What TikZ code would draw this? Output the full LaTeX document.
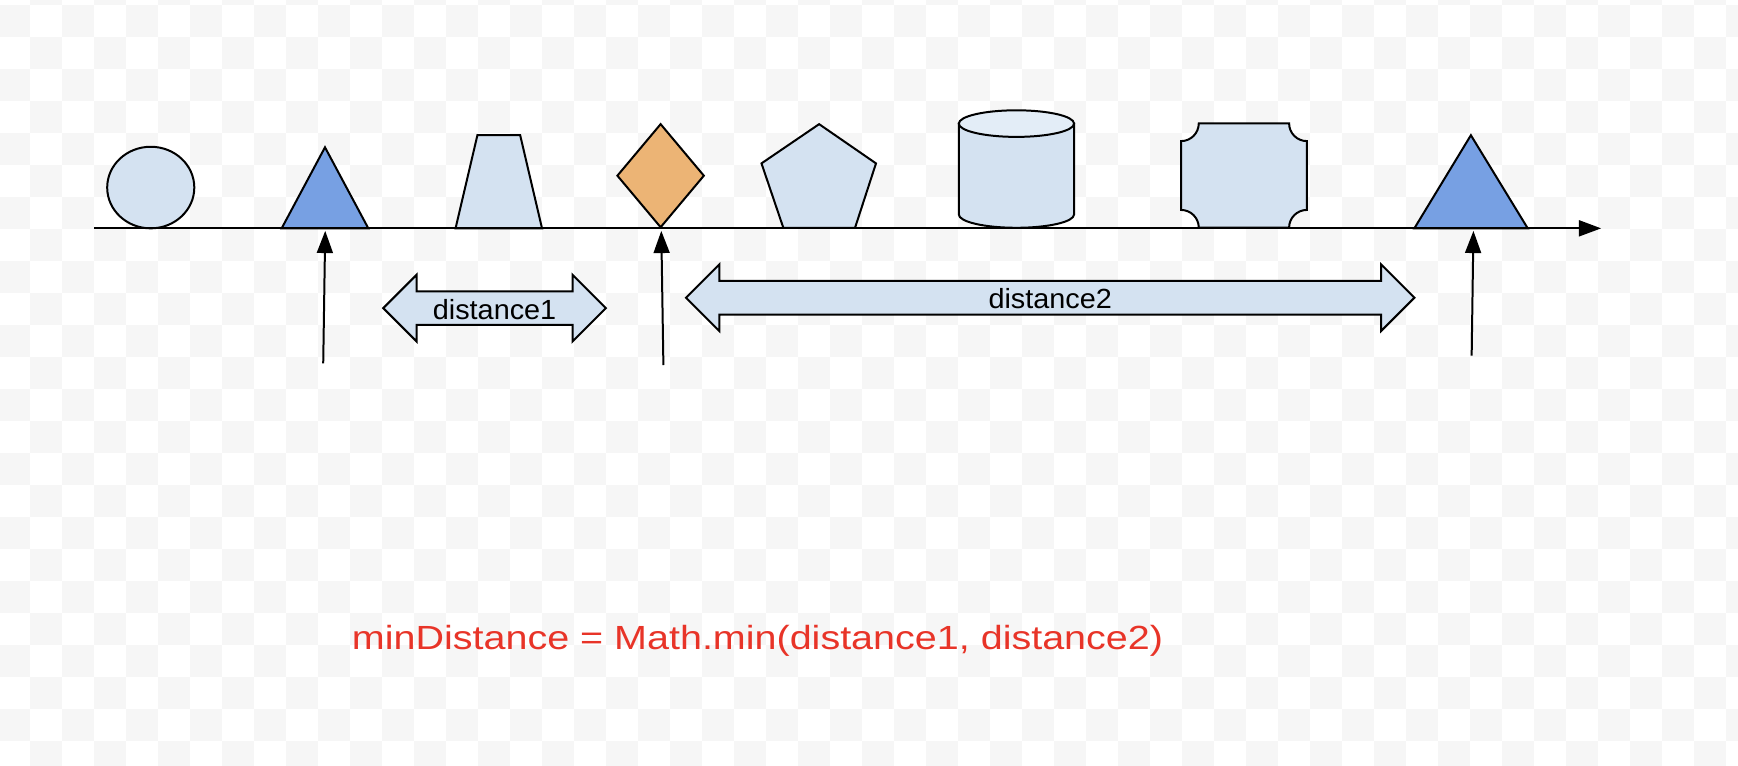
\documentclass[tikz,border=0pt]{standalone}
\usepackage{fontspec}
\setmainfont{Liberation Sans}
\newfontfamily\wideface[FakeStretch=1.18]{Liberation Sans}
\newfontfamily\labelface[FakeStretch=1.04]{Liberation Sans}
\usetikzlibrary{arrows.meta,shapes.arrows}
\definecolor{paleblue}{RGB}{212,226,241}
\definecolor{paletop}{RGB}{227,237,247}
\definecolor{triblue}{RGB}{119,160,227}
\definecolor{diamorange}{RGB}{236,180,117}
\definecolor{formred}{RGB}{232,52,40}
\definecolor{checkgrey}{RGB}{246,246,246}

\begin{document}
\begin{tikzpicture}[x=1pt,y=-1pt,
  outline/.style={draw=black,line width=1.8pt,line join=miter},
  pointer/.style={line width=1.8pt,-{Triangle[length=20pt,width=14.4pt]}},
  dblarrow/.style={double arrow,draw=black,line width=1.8pt,fill=paleblue,
    double arrow head extend=14.9pt,inner xsep=0pt,inner ysep=4.5pt,
    text height=19.6pt,text depth=0pt,font=\labelface\fontsize{25}{28}\selectfont}]
  % background
  \useasboundingbox (0,0) rectangle (1568,691);
  \fill[white] (0,0) rectangle (1568,691);
  \begin{scope}
    \clip (0,0) rectangle (1568,691);
    \foreach \j in {-1,...,23}{
      \pgfmathtruncatemacro\first{mod(\j+2,2)}
      \pgfmathtruncatemacro\second{\first+2}
      \foreach \i in {\first,\second,...,55}
        \fill[checkgrey] ({-1.8+28.87*\i},{4.51+28.87*\j}) rectangle +(28.87,28.87);
    }
  \end{scope}

  % shapes on the line
  \filldraw[outline,fill=paleblue] (136,169.2) ellipse [x radius=39.3,y radius=36.8];
  \filldraw[outline,fill=triblue] (254.1,206) -- (293.2,132.9) -- (332.3,206) -- cycle;
  \filldraw[outline,fill=paleblue] (411,206) -- (430.7,122) -- (469.3,122) -- (489,206) -- cycle;
  \filldraw[outline,fill=diamorange] (596,112) -- (635,158.5) -- (596,205) -- (557,158.5) -- cycle;
  \filldraw[outline,fill=paleblue] (739,112) -- (790.3,147.4) -- (771.4,205.5)
    -- (706.7,205.5) -- (687,147.4) -- cycle;
  \filldraw[outline,fill=paleblue] (865,111.5) -- (865,193.5)
    arc[start angle=180,end angle=0,x radius=52,y radius=12] -- (969,111.5) -- cycle;
  \filldraw[outline,fill=paletop] (917,111.5) ellipse [x radius=52,y radius=12];
  \filldraw[outline,fill=paleblue] (1081.5,111.3) -- (1163,111.3)
    arc[start angle=180,end angle=90,radius=16] -- (1179,189.4)
    arc[start angle=270,end angle=180,radius=16] -- (1081.5,205.4)
    arc[start angle=0,end angle=-90,radius=16] -- (1065.5,127.3)
    arc[start angle=90,end angle=0,radius=16] -- cycle;
  \filldraw[outline,fill=triblue] (1276,206) -- (1327,122) -- (1378.3,206) -- cycle;

  % axis
  \coordinate (origin) at (85,206);
  \coordinate (axisend) at (1444.5,206);
  \draw[pointer] (origin) -- (axisend);

  % pointers from below
  \foreach \name/\bx/\by/\tx in {pa/291.6/327.8/293.4,pb/598.5/329.3/596.6,pc/1327.7/320.9/1329.3}{
    \coordinate (\name foot) at (\bx,\by);
    \coordinate (\name tip) at (\tx,208.3);
    \draw[pointer] (\name foot) -- (\name tip);
  }

  \node[dblarrow,minimum height=200.9pt] (dist1) at (446.2,278) {distance1};
  \node[dblarrow,minimum height=657.1pt] (dist2) at (947.5,268.6) {distance2};

  \node[anchor=base west,inner sep=0pt,text=formred,
    font=\wideface\fontsize{30.2}{34}\selectfont] (formula) at (317.3,586.4)
    {minDistance = Math.min(distance1, distance2)};
\end{tikzpicture}
\end{document}
